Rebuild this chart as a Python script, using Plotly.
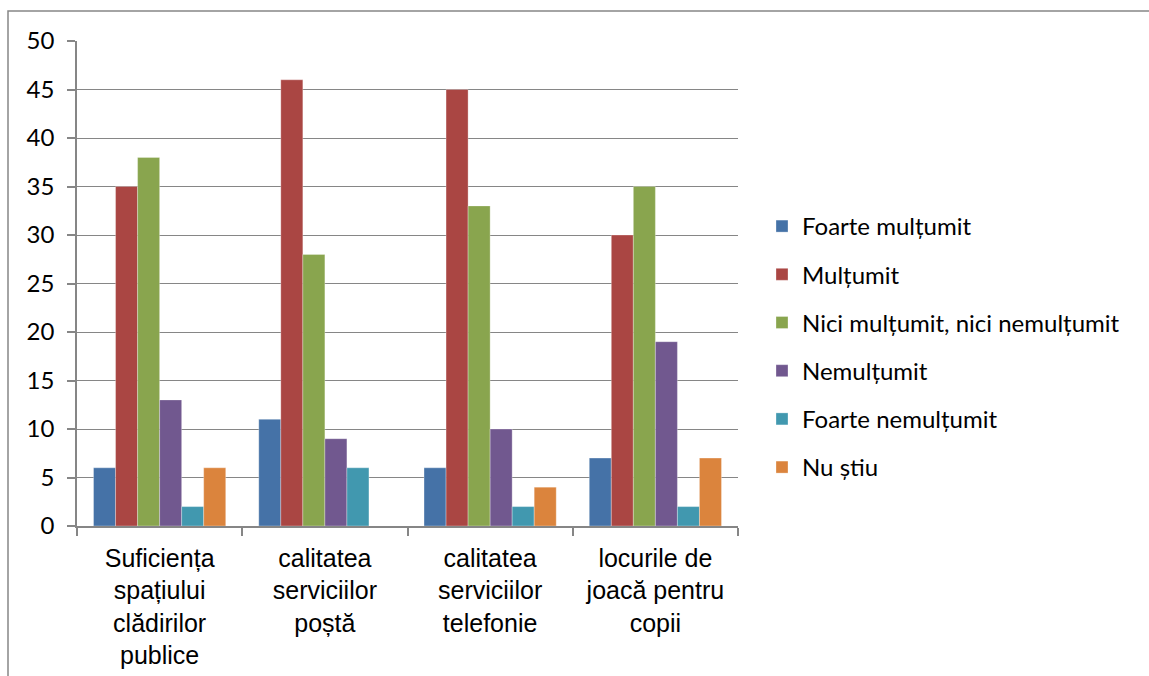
import plotly.graph_objects as go

categories = [
    "Suficiența<br>spațiului<br>clădirilor<br>publice",
    "calitatea<br>serviciilor<br>poștă",
    "calitatea<br>serviciilor<br>telefonie",
    "locurile de<br>joacă pentru<br>copii",
]
series_names = [
    "Foarte mulțumit",
    "Mulțumit",
    "Nici mulțumit, nici nemulțumit",
    "Nemulțumit",
    "Foarte nemulțumit",
    "Nu știu",
]
foarte_multumit = [6, 11, 6, 7]
multumit = [35, 46, 45, 30]
nici = [38, 28, 33, 35]
nemultumit = [13, 9, 10, 19]
foarte_nemultumit = [2, 6, 2, 2]
nu_stiu = [6, 0, 4, 7]
y_ticks = [0, 5, 10, 15, 20, 25, 30, 35, 40, 45, 50]

series_values = [foarte_multumit, multumit, nici, nemultumit, foarte_nemultumit, nu_stiu]
colors = ["#4572A7", "#AA4643", "#89A54E", "#71588F", "#4198AF", "#DB843D"]

W, H = 1149, 676
L, R, T, B = 77, 738, 41, 526  # plot area pixel bounds

fig = go.Figure()
for name, vals, col in zip(series_names, series_values, colors):
    fig.add_trace(go.Bar(
        x=categories, y=vals, name=name, legendgroup=name,
        marker=dict(color=col, line=dict(color="rgba(255,255,255,0.5)", width=0.6)),
    ))

pw, ph = R - L, B - T
def px(x):
    return (x - L) / pw
def py(y):
    return (B - y) / ph

fig.update_layout(
    width=W, height=H,
    margin=dict(l=L, r=W - R, t=T, b=H - B, autoexpand=False),
    paper_bgcolor="white", plot_bgcolor="white",
    barmode="group", bargap=0.2, bargroupgap=0,
    font=dict(family="Lato", size=24, color="black"),
    showlegend=True,
    legend=dict(
        x=px(762), y=py(204), xanchor="left", yanchor="top",
        font=dict(family="Lato", size=24, color="black"),
        tracegroupgap=14, itemwidth=30,
        bgcolor="rgba(0,0,0,0)",
    ),
    xaxis=dict(
        automargin=False,
        showline=True, linecolor="#868686", linewidth=1.5,
        ticks="outside", tickson="boundaries", ticklen=8, tickcolor="#868686", tickwidth=1.5,
        tickfont=dict(family="Liberation Sans", size=25, color="black"),
        ticklabelstandoff=9,
        showgrid=False,
    ),
    yaxis=dict(
        automargin=False,
        range=[0, 50], tickvals=y_ticks,
        showline=True, linecolor="#868686", linewidth=1.5,
        ticks="outside", ticklen=8, tickcolor="#868686", tickwidth=1.5,
        showgrid=True, gridcolor="#868686", gridwidth=1.2,
        zeroline=False,
        tickfont=dict(family="Lato", size=24, color="black"),
        ticklabelstandoff=8,
    ),
    shapes=[dict(
        type="rect", xref="paper", yref="paper",
        x0=px(8), x1=px(1170), y0=py(700), y1=py(11),
        line=dict(color="#868686", width=1.5), fillcolor="rgba(0,0,0,0)", layer="below",
    )],
)

fig.write_html("out.html", config={"displayModeBar": False},
               post_script="document.body.style.margin='0';")
